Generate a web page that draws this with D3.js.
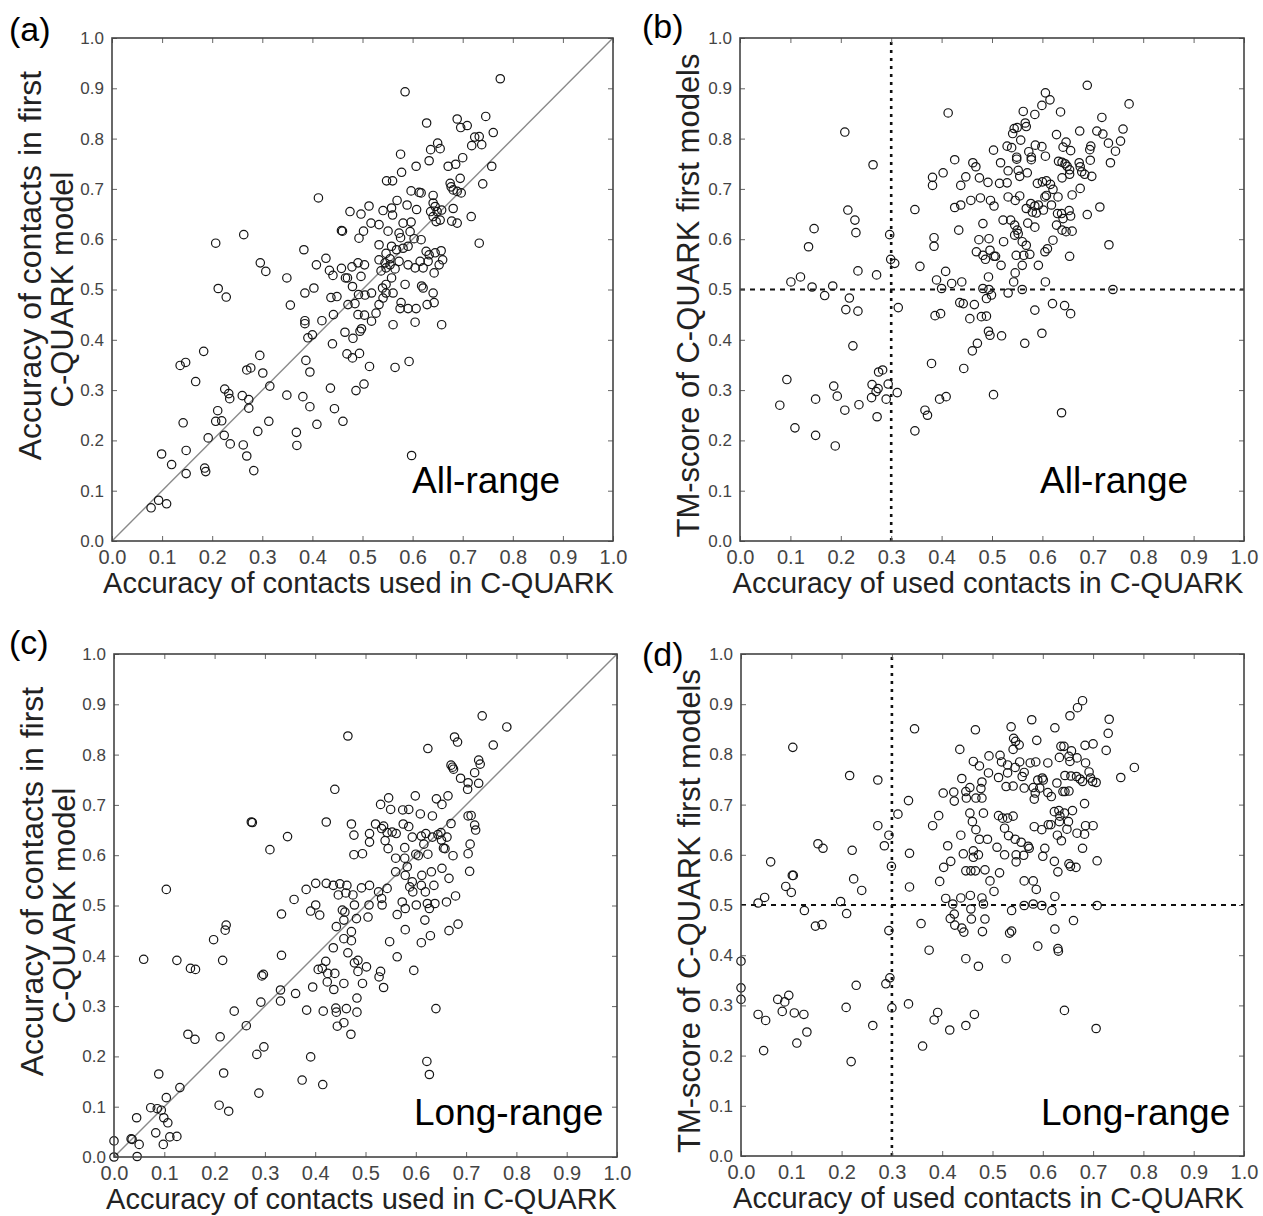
<!DOCTYPE html>
<html><head><meta charset="utf-8">
<script src="https://cdn.jsdelivr.net/npm/d3@7/dist/d3.min.js"></script>
<style>
body{margin:0;background:#fff}
svg{display:block}
text{font-family:"Liberation Sans",Arial,Helvetica,sans-serif}
</style>
</head><body>
<svg id="chart" width="1263" height="1216"></svg>
<script>
// ---------- DATA ----------
const tickValues = [0,0.1,0.2,0.3,0.4,0.5,0.6,0.7,0.8,0.9,1.0];
const tickLabels = ["0.0","0.1","0.2","0.3","0.4","0.5","0.6","0.7","0.8","0.9","1.0"];
const panelLabels = ["(a)","(b)","(c)","(d)"];
const rangeLabels = ["All-range","All-range","Long-range","Long-range"];
const xTitles = ["Accuracy of contacts used in C-QUARK","Accuracy of used contacts in C-QUARK",
                 "Accuracy of contacts used in C-QUARK","Accuracy of used contacts in C-QUARK"];
const yTitles = [["Accuracy of contacts in first","C-QUARK model"],["TM-score of C-QUARK first models"],
                 ["Accuracy of contacts in first","C-QUARK model"],["TM-score of C-QUARK first models"]];
const diagonalLine = [[0,0],[1,1]];
const thresholdX = 0.3;
const thresholdY = 0.5;

// (a) all-range: accuracy used (x) vs accuracy in first model (y)
const panelA = [
[0.078,0.066],[0.093,0.081],[0.109,0.074],[0.099,0.173],[0.119,0.152],[0.148,0.134],[0.148,0.18],[0.142,0.235],[0.185,0.145],[0.187,0.138],[0.192,0.205],[0.136,0.349],[0.147,0.355],[0.167,0.317],[0.183,0.377],[0.207,0.592],[0.212,0.502],[0.228,0.485],[0.263,0.609],[0.211,0.259],[0.207,0.238],[0.219,0.239],[0.224,0.21],[0.236,0.193],[0.225,0.302],[0.233,0.293],[0.235,0.283],[0.26,0.289],[0.273,0.281],[0.273,0.264],[0.262,0.191],[0.269,0.169],[0.283,0.14],[0.291,0.218],[0.313,0.238],[0.315,0.308],[0.301,0.334],[0.295,0.369],[0.269,0.34],[0.277,0.344],[0.296,0.553],[0.307,0.536],[0.349,0.29],[0.381,0.287],[0.395,0.267],[0.368,0.216],[0.369,0.19],[0.409,0.232],[0.444,0.263],[0.461,0.238],[0.436,0.304],[0.387,0.359],[0.395,0.336],[0.391,0.404],[0.4,0.41],[0.385,0.438],[0.385,0.432],[0.356,0.469],[0.349,0.523],[0.385,0.493],[0.403,0.503],[0.383,0.579],[0.412,0.682],[0.408,0.549],[0.427,0.562],[0.434,0.538],[0.441,0.528],[0.458,0.542],[0.419,0.438],[0.442,0.45],[0.437,0.484],[0.449,0.486],[0.44,0.392],[0.465,0.415],[0.469,0.372],[0.48,0.364],[0.494,0.373],[0.487,0.299],[0.503,0.312],[0.481,0.403],[0.495,0.417],[0.498,0.422],[0.471,0.47],[0.485,0.472],[0.491,0.45],[0.504,0.449],[0.492,0.49],[0.505,0.489],[0.48,0.506],[0.466,0.523],[0.47,0.523],[0.479,0.545],[0.497,0.526],[0.491,0.553],[0.504,0.549],[0.458,0.617],[0.46,0.616],[0.475,0.655],[0.497,0.65],[0.493,0.602],[0.502,0.616],[0.513,0.666],[0.517,0.632],[0.514,0.347],
[0.775,0.919],[0.585,0.893],[0.628,0.831],[0.689,0.839],[0.696,0.822],[0.709,0.826],[0.746,0.844],[0.761,0.812],[0.724,0.803],[0.733,0.804],[0.718,0.786],[0.738,0.788],[0.65,0.791],[0.636,0.778],[0.655,0.78],[0.633,0.756],[0.576,0.769],[0.578,0.733],[0.607,0.745],[0.548,0.716],[0.56,0.716],[0.671,0.745],[0.686,0.749],[0.7,0.762],[0.758,0.745],[0.74,0.71],[0.695,0.721],[0.675,0.711],[0.677,0.704],[0.681,0.698],[0.689,0.695],[0.697,0.692],[0.597,0.696],[0.613,0.693],[0.617,0.692],[0.641,0.687],[0.641,0.672],[0.645,0.665],[0.636,0.655],[0.649,0.655],[0.658,0.658],[0.641,0.645],[0.647,0.635],[0.655,0.638],[0.681,0.661],[0.717,0.645],[0.678,0.636],[0.689,0.632],[0.608,0.659],[0.589,0.668],[0.569,0.677],[0.558,0.662],[0.541,0.657],[0.56,0.648],[0.533,0.629],[0.581,0.632],[0.597,0.634],[0.551,0.616],[0.573,0.612],[0.595,0.615],[0.576,0.603],[0.603,0.601],[0.617,0.599],[0.733,0.592],[0.533,0.589],[0.558,0.586],[0.568,0.579],[0.581,0.582],[0.591,0.586],[0.547,0.572],[0.555,0.561],[0.533,0.559],[0.545,0.553],[0.555,0.549],[0.547,0.543],[0.537,0.537],[0.565,0.541],[0.573,0.556],[0.591,0.549],[0.605,0.543],[0.615,0.556],[0.621,0.543],[0.627,0.576],[0.633,0.569],[0.645,0.573],[0.657,0.577],[0.66,0.559],[0.653,0.549],[0.631,0.556],[0.643,0.533],[0.558,0.523],[0.547,0.51],[0.54,0.503],[0.547,0.493],[0.561,0.493],[0.585,0.51],[0.541,0.483],[0.518,0.493],[0.533,0.47],[0.577,0.474],[0.591,0.462],[0.575,0.462],[0.607,0.462],[0.618,0.507],[0.621,0.503],[0.629,0.47],[0.643,0.474],[0.641,0.493],[0.527,0.453],[0.518,0.437],[0.561,0.43],[0.605,0.435],[0.658,0.43],[0.565,0.345],[0.593,0.357],[0.598,0.17]
];

// (b) all-range: accuracy used (x) vs TM-score (y)
const panelB = [
[0.413,0.851],[0.208,0.813],[0.264,0.748],[0.503,0.777],[0.426,0.758],[0.462,0.752],[0.468,0.744],[0.403,0.732],[0.382,0.723],[0.382,0.707],[0.448,0.724],[0.438,0.707],[0.475,0.722],[0.492,0.713],[0.426,0.663],[0.438,0.668],[0.458,0.677],[0.477,0.682],[0.497,0.677],[0.504,0.666],[0.347,0.659],[0.214,0.658],[0.228,0.638],[0.23,0.613],[0.147,0.621],[0.136,0.585],[0.297,0.609],[0.299,0.56],[0.307,0.552],[0.482,0.631],[0.434,0.618],[0.385,0.603],[0.385,0.586],[0.474,0.599],[0.494,0.601],[0.496,0.578],[0.469,0.575],[0.482,0.568],[0.487,0.56],[0.504,0.566],[0.357,0.546],[0.408,0.536],[0.493,0.525],[0.101,0.515],[0.12,0.525],[0.143,0.505],[0.184,0.507],[0.168,0.488],[0.234,0.537],[0.271,0.529],[0.39,0.519],[0.42,0.512],[0.44,0.515],[0.4,0.502],[0.482,0.502],[0.494,0.5],[0.499,0.489],[0.489,0.482],[0.217,0.483],[0.21,0.46],[0.234,0.457],[0.314,0.464],[0.436,0.474],[0.443,0.472],[0.465,0.47],[0.387,0.448],[0.398,0.452],[0.456,0.442],[0.479,0.446],[0.489,0.447],[0.493,0.417],[0.496,0.409],[0.471,0.393],[0.461,0.378],[0.224,0.388],[0.38,0.353],[0.444,0.343],[0.093,0.321],[0.186,0.308],[0.193,0.288],[0.15,0.282],[0.079,0.27],[0.208,0.26],[0.236,0.271],[0.275,0.336],[0.283,0.34],[0.262,0.311],[0.274,0.303],[0.27,0.297],[0.261,0.285],[0.294,0.312],[0.29,0.282],[0.312,0.295],[0.272,0.247],[0.109,0.225],[0.15,0.21],[0.189,0.189],[0.347,0.219],[0.367,0.26],[0.372,0.25],[0.396,0.282],[0.409,0.287],[0.503,0.291],
[0.689,0.906],[0.606,0.891],[0.615,0.877],[0.599,0.866],[0.772,0.869],[0.636,0.853],[0.562,0.854],[0.585,0.848],[0.566,0.831],[0.568,0.824],[0.544,0.82],[0.55,0.822],[0.541,0.81],[0.557,0.797],[0.718,0.842],[0.76,0.819],[0.674,0.815],[0.708,0.815],[0.72,0.809],[0.731,0.791],[0.755,0.795],[0.745,0.775],[0.735,0.752],[0.628,0.808],[0.647,0.793],[0.696,0.785],[0.694,0.778],[0.53,0.785],[0.539,0.782],[0.586,0.787],[0.599,0.784],[0.573,0.774],[0.641,0.783],[0.656,0.776],[0.549,0.763],[0.549,0.759],[0.578,0.763],[0.578,0.758],[0.606,0.765],[0.695,0.757],[0.632,0.755],[0.639,0.753],[0.645,0.75],[0.649,0.745],[0.654,0.738],[0.654,0.729],[0.673,0.752],[0.675,0.744],[0.678,0.734],[0.684,0.729],[0.698,0.725],[0.517,0.752],[0.532,0.736],[0.552,0.737],[0.555,0.725],[0.57,0.732],[0.59,0.711],[0.6,0.714],[0.608,0.716],[0.616,0.709],[0.621,0.699],[0.639,0.722],[0.675,0.701],[0.53,0.712],[0.515,0.711],[0.608,0.687],[0.605,0.684],[0.631,0.684],[0.659,0.688],[0.532,0.684],[0.546,0.677],[0.555,0.686],[0.714,0.664],[0.689,0.649],[0.568,0.661],[0.577,0.671],[0.585,0.666],[0.58,0.654],[0.588,0.652],[0.592,0.668],[0.602,0.658],[0.618,0.668],[0.63,0.651],[0.638,0.651],[0.641,0.641],[0.653,0.657],[0.656,0.646],[0.522,0.638],[0.537,0.638],[0.545,0.628],[0.571,0.632],[0.585,0.624],[0.628,0.628],[0.639,0.618],[0.647,0.615],[0.659,0.616],[0.55,0.618],[0.552,0.611],[0.545,0.608],[0.56,0.595],[0.568,0.588],[0.621,0.598],[0.61,0.581],[0.605,0.575],[0.523,0.595],[0.548,0.568],[0.563,0.568],[0.575,0.57],[0.654,0.566],[0.732,0.589],[0.507,0.566],[0.518,0.548],[0.56,0.548],[0.592,0.548],[0.546,0.533],[0.543,0.515],[0.606,0.515],[0.532,0.493],[0.56,0.5],[0.74,0.5],[0.585,0.459],[0.62,0.472],[0.644,0.468],[0.656,0.452],[0.599,0.413],[0.565,0.393],[0.519,0.408],[0.638,0.255]
];

// (c) long-range: accuracy used (x) vs accuracy in first model (y)
const panelC = [
[0,0.032],[0,0],[0.034,0.036],[0.036,0.035],[0.05,0.025],[0.046,0.001],[0.045,0.078],[0.083,0.048],[0.098,0.025],[0.111,0.04],[0.125,0.041],[0.073,0.098],[0.086,0.096],[0.094,0.093],[0.099,0.078],[0.107,0.068],[0.104,0.118],[0.089,0.165],[0.131,0.138],[0.059,0.393],[0.104,0.532],[0.125,0.391],[0.152,0.375],[0.162,0.373],[0.147,0.244],[0.161,0.234],[0.209,0.103],[0.228,0.091],[0.218,0.167],[0.211,0.239],[0.198,0.432],[0.221,0.451],[0.223,0.461],[0.216,0.391],[0.239,0.29],[0.263,0.261],[0.273,0.666],[0.275,0.665],[0.31,0.611],[0.345,0.637],[0.288,0.127],[0.284,0.204],[0.298,0.219],[0.294,0.36],[0.297,0.363],[0.292,0.308],[0.331,0.332],[0.331,0.31],[0.361,0.325],[0.333,0.401],[0.333,0.483],[0.358,0.512],[0.382,0.532],[0.401,0.544],[0.422,0.544],[0.436,0.54],[0.449,0.543],[0.463,0.54],[0.446,0.521],[0.461,0.525],[0.475,0.521],[0.492,0.535],[0.508,0.54],[0.391,0.489],[0.401,0.501],[0.409,0.481],[0.454,0.491],[0.459,0.487],[0.478,0.501],[0.482,0.474],[0.507,0.501],[0.505,0.477],[0.457,0.471],[0.442,0.458],[0.457,0.434],[0.472,0.448],[0.472,0.43],[0.436,0.416],[0.465,0.406],[0.421,0.389],[0.406,0.373],[0.414,0.375],[0.425,0.365],[0.439,0.365],[0.424,0.348],[0.437,0.333],[0.457,0.345],[0.478,0.386],[0.485,0.391],[0.485,0.369],[0.502,0.378],[0.494,0.345],[0.395,0.338],[0.383,0.292],[0.416,0.29],[0.441,0.296],[0.442,0.288],[0.462,0.295],[0.483,0.288],[0.483,0.316],[0.444,0.26],[0.457,0.267],[0.471,0.244],[0.391,0.199],[0.374,0.153],[0.415,0.144],[0.422,0.666],[0.439,0.731],[0.465,0.837],[0.472,0.662],[0.477,0.64],[0.477,0.601],[0.494,0.603],[0.508,0.643],[0.508,0.626],
[0.732,0.877],[0.781,0.855],[0.677,0.835],[0.683,0.825],[0.754,0.819],[0.624,0.812],[0.725,0.789],[0.728,0.781],[0.67,0.779],[0.673,0.775],[0.675,0.771],[0.717,0.764],[0.689,0.753],[0.704,0.744],[0.725,0.743],[0.703,0.731],[0.641,0.712],[0.664,0.718],[0.652,0.701],[0.599,0.718],[0.546,0.714],[0.53,0.701],[0.55,0.691],[0.574,0.69],[0.586,0.691],[0.609,0.682],[0.633,0.678],[0.704,0.678],[0.71,0.679],[0.52,0.662],[0.536,0.658],[0.575,0.662],[0.586,0.657],[0.67,0.663],[0.717,0.66],[0.719,0.65],[0.532,0.653],[0.543,0.645],[0.553,0.646],[0.561,0.643],[0.539,0.629],[0.545,0.613],[0.593,0.636],[0.611,0.638],[0.62,0.643],[0.633,0.636],[0.644,0.641],[0.65,0.645],[0.662,0.636],[0.651,0.63],[0.655,0.614],[0.658,0.613],[0.616,0.622],[0.624,0.602],[0.578,0.615],[0.6,0.602],[0.605,0.599],[0.674,0.599],[0.708,0.622],[0.704,0.603],[0.707,0.568],[0.56,0.594],[0.578,0.594],[0.583,0.577],[0.56,0.567],[0.579,0.56],[0.612,0.56],[0.631,0.567],[0.652,0.574],[0.666,0.554],[0.593,0.547],[0.611,0.54],[0.588,0.537],[0.594,0.527],[0.619,0.527],[0.636,0.54],[0.573,0.507],[0.579,0.494],[0.601,0.501],[0.623,0.504],[0.627,0.494],[0.638,0.504],[0.661,0.507],[0.679,0.519],[0.526,0.527],[0.532,0.514],[0.543,0.534],[0.533,0.501],[0.563,0.482],[0.618,0.471],[0.579,0.452],[0.611,0.426],[0.629,0.44],[0.666,0.45],[0.684,0.463],[0.548,0.428],[0.563,0.398],[0.596,0.371],[0.527,0.358],[0.53,0.369],[0.536,0.337],[0.64,0.295],[0.622,0.19],[0.627,0.164]
];

// (d) long-range: accuracy used (x) vs TM-score (y)
const panelD = [
[0,0.388],[0,0.335],[0,0.312],[0.034,0.282],[0.049,0.27],[0.045,0.21],[0.073,0.312],[0.087,0.307],[0.095,0.32],[0.082,0.288],[0.106,0.285],[0.125,0.282],[0.131,0.247],[0.111,0.225],[0.103,0.814],[0.059,0.586],[0.102,0.559],[0.104,0.559],[0.089,0.537],[0.1,0.525],[0.034,0.504],[0.047,0.515],[0.126,0.489],[0.148,0.458],[0.161,0.461],[0.153,0.622],[0.163,0.613],[0.221,0.609],[0.224,0.552],[0.24,0.529],[0.198,0.507],[0.21,0.483],[0.216,0.758],[0.272,0.749],[0.272,0.658],[0.285,0.618],[0.294,0.639],[0.299,0.577],[0.312,0.681],[0.333,0.708],[0.345,0.851],[0.335,0.603],[0.335,0.536],[0.358,0.463],[0.294,0.449],[0.374,0.41],[0.229,0.34],[0.288,0.343],[0.296,0.355],[0.209,0.296],[0.3,0.295],[0.262,0.26],[0.219,0.188],[0.333,0.303],[0.361,0.219],[0.384,0.271],[0.391,0.286],[0.415,0.251],[0.447,0.26],[0.464,0.282],[0.447,0.393],[0.472,0.378],[0.381,0.658],[0.393,0.678],[0.402,0.723],[0.423,0.725],[0.424,0.707],[0.435,0.81],[0.439,0.752],[0.447,0.726],[0.448,0.713],[0.455,0.734],[0.462,0.786],[0.474,0.777],[0.466,0.849],[0.467,0.713],[0.479,0.745],[0.477,0.732],[0.479,0.713],[0.493,0.797],[0.492,0.763],[0.455,0.683],[0.482,0.683],[0.46,0.666],[0.467,0.65],[0.474,0.631],[0.49,0.631],[0.437,0.639],[0.411,0.618],[0.442,0.602],[0.462,0.608],[0.462,0.595],[0.472,0.6],[0.417,0.587],[0.403,0.575],[0.447,0.568],[0.457,0.568],[0.466,0.568],[0.485,0.57],[0.395,0.547],[0.495,0.548],[0.503,0.527],[0.407,0.513],[0.421,0.502],[0.437,0.514],[0.456,0.519],[0.479,0.514],[0.482,0.502],[0.457,0.492],[0.424,0.482],[0.416,0.473],[0.425,0.46],[0.439,0.454],[0.443,0.446],[0.458,0.472],[0.485,0.472],[0.48,0.447],
[0.679,0.907],[0.669,0.893],[0.654,0.877],[0.732,0.87],[0.73,0.842],[0.726,0.808],[0.782,0.774],[0.755,0.754],[0.624,0.853],[0.578,0.869],[0.537,0.855],[0.542,0.832],[0.546,0.826],[0.553,0.819],[0.541,0.81],[0.588,0.828],[0.636,0.816],[0.642,0.816],[0.657,0.807],[0.652,0.796],[0.668,0.793],[0.654,0.786],[0.633,0.794],[0.684,0.818],[0.7,0.821],[0.515,0.798],[0.518,0.785],[0.53,0.779],[0.554,0.785],[0.545,0.774],[0.575,0.783],[0.586,0.785],[0.61,0.783],[0.685,0.783],[0.692,0.765],[0.695,0.753],[0.706,0.744],[0.512,0.754],[0.53,0.763],[0.563,0.764],[0.559,0.756],[0.527,0.736],[0.541,0.737],[0.563,0.733],[0.581,0.734],[0.59,0.749],[0.599,0.753],[0.601,0.749],[0.594,0.733],[0.585,0.723],[0.583,0.711],[0.61,0.724],[0.617,0.716],[0.628,0.743],[0.64,0.726],[0.644,0.726],[0.652,0.727],[0.644,0.758],[0.656,0.757],[0.667,0.756],[0.674,0.751],[0.679,0.746],[0.699,0.746],[0.683,0.702],[0.623,0.686],[0.632,0.688],[0.643,0.683],[0.634,0.677],[0.659,0.688],[0.633,0.666],[0.651,0.666],[0.611,0.66],[0.616,0.66],[0.583,0.656],[0.598,0.65],[0.648,0.651],[0.668,0.643],[0.683,0.641],[0.7,0.658],[0.685,0.658],[0.629,0.639],[0.637,0.628],[0.679,0.613],[0.512,0.678],[0.52,0.673],[0.53,0.673],[0.541,0.677],[0.524,0.653],[0.532,0.638],[0.545,0.631],[0.557,0.625],[0.571,0.617],[0.573,0.613],[0.562,0.599],[0.547,0.6],[0.547,0.586],[0.524,0.6],[0.509,0.615],[0.604,0.613],[0.6,0.597],[0.623,0.587],[0.63,0.566],[0.652,0.582],[0.655,0.577],[0.666,0.575],[0.708,0.588],[0.514,0.564],[0.563,0.548],[0.581,0.548],[0.587,0.531],[0.624,0.517],[0.563,0.499],[0.581,0.502],[0.598,0.499],[0.618,0.489],[0.538,0.489],[0.708,0.499],[0.624,0.452],[0.661,0.469],[0.534,0.444],[0.538,0.448],[0.59,0.418],[0.63,0.413],[0.631,0.408],[0.527,0.393],[0.643,0.29],[0.706,0.254]
];

const panelData = [panelA, panelB, panelC, panelD];

// ---------- LAYOUT ----------
const boxes = [
  {left:112, top:38,  w:501, h:503},
  {left:740, top:38,  w:504, h:503},
  {left:114, top:654, w:503, h:503},
  {left:741, top:654, w:503, h:502}
];
const labelPos = [{x:9,y:41},{x:642,y:38},{x:9,y:654},{x:642,y:666}];
const kinds = ["diag","thresh","diag","thresh"];

const svg = d3.select("#chart");
const FONT = '"Liberation Sans",Arial,Helvetica,sans-serif';

boxes.forEach((b, i) => {
  const g = svg.append("g").attr("transform", `translate(${b.left},${b.top})`);
  const x = d3.scaleLinear().domain([0,1]).range([0,b.w]);
  const y = d3.scaleLinear().domain([0,1]).range([b.h,0]);

  // reference lines
  if (kinds[i] === "diag") {
    g.append("path").datum(diagonalLine)
      .attr("d", d3.line().x(d=>x(d[0])).y(d=>y(d[1])))
      .attr("stroke","#8a8a8a").attr("stroke-width",1.4).attr("fill","none");
  } else {
    g.append("line").attr("x1",x(thresholdX)).attr("x2",x(thresholdX)).attr("y1",y(0)).attr("y2",y(1))
      .attr("stroke","#111").attr("stroke-width",2.6).attr("stroke-dasharray","3,5");
    g.append("line").attr("x1",x(0)).attr("x2",x(1)).attr("y1",y(thresholdY)).attr("y2",y(thresholdY))
      .attr("stroke","#111").attr("stroke-width",1.8).attr("stroke-dasharray","5,5");
  }

  // points
  g.append("g").selectAll("circle").data(panelData[i]).join("circle")
    .attr("cx", d=>x(d[0])).attr("cy", d=>y(d[1])).attr("r", 4.2)
    .attr("fill","none").attr("stroke","#151515").attr("stroke-width",1.2);

  // axes (inward ticks on all sides)
  const fmt = d => tickLabels[tickValues.indexOf(d)];
  const gx = g.append("g").attr("transform",`translate(0,${b.h})`)
    .call(d3.axisBottom(x).tickValues(tickValues).tickSize(-5).tickPadding(9).tickFormat(fmt));
  const gy = g.append("g")
    .call(d3.axisLeft(y).tickValues(tickValues).tickSize(-5).tickPadding(8).tickFormat(fmt));
  const gt = g.append("g").call(d3.axisTop(x).tickValues(tickValues).tickSize(-5).tickFormat(""));
  const gr = g.append("g").attr("transform",`translate(${b.w},0)`)
    .call(d3.axisRight(y).tickValues(tickValues).tickSize(-5).tickFormat(""));
  [gx,gy,gt,gr].forEach(a => {
    a.select(".domain").remove();
    a.selectAll(".tick line").attr("stroke","#666").attr("stroke-width",1);
  });
  gx.selectAll(".tick text").attr("font-size",20).attr("fill","#444").style("font-family",FONT);
  gy.selectAll(".tick text").attr("font-size",17).attr("fill","#444").style("font-family",FONT);

  // frame
  g.append("rect").attr("x",0).attr("y",0).attr("width",b.w).attr("height",b.h)
    .attr("fill","none").attr("stroke","#444").attr("stroke-width",1.6);

  // range label
  g.append("text").attr("x",300).attr("y", i<2 ? 455 : 471)
    .attr("font-size",37).attr("fill","#000").text(rangeLabels[i]);

  // x title
  g.append("text").attr("x", b.w/2 - 4).attr("y", b.h + 52).attr("text-anchor","middle")
    .attr("font-size",29).attr("fill","#222").text(xTitles[i]);

  // y title
  const yt = yTitles[i];
  if (yt.length === 2) {
    g.append("text").attr("transform",`translate(${-71},${b.h/2 - 24}) rotate(-90)`)
      .attr("text-anchor","middle").attr("font-size",32).attr("fill","#222").text(yt[0]);
    g.append("text").attr("transform",`translate(${-39},${b.h/2}) rotate(-90)`)
      .attr("text-anchor","middle").attr("font-size",31).attr("fill","#222").text(yt[1]);
  } else {
    g.append("text").attr("transform",`translate(${-41},${b.h/2 + 6}) rotate(-90)`)
      .attr("text-anchor","middle").attr("font-size",31).attr("fill","#222").text(yt[0]);
  }

  // panel label
  svg.append("text").attr("x",labelPos[i].x).attr("y",labelPos[i].y)
    .attr("font-size",34).attr("fill","#000").text(panelLabels[i]);
});
</script>
</body></html>
